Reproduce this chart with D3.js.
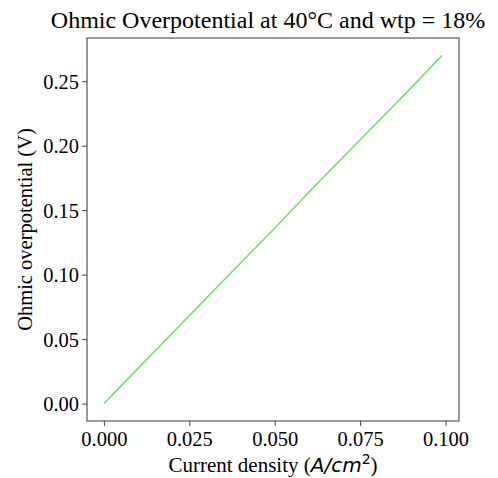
<!DOCTYPE html>
<html>
<head>
<meta charset="utf-8">
<script src="https://cdn.jsdelivr.net/npm/d3@7"></script>
<style>
  body { margin: 0; background: #fff; }
  text { font-family: "Liberation Serif", "Times New Roman", serif; fill: #000; }
</style>
</head>
<body>
<div id="chart"></div>
<script>
// current density (A/cm^2) and ohmic overpotential (V)
var currentDensity = [0.000, 0.010, 0.020, 0.030, 0.040, 0.050, 0.060, 0.070, 0.080, 0.090, 0.099];
var overpotential  = [0.000, 0.0273, 0.0545, 0.0818, 0.109, 0.136, 0.164, 0.191, 0.218, 0.245, 0.270];
var xTicks = [0.000, 0.025, 0.050, 0.075, 0.100];
var yTicks = [0.00, 0.05, 0.10, 0.15, 0.20, 0.25];

var width = 498, height = 478;
var margin = {top: 38, right: 39, bottom: 57, left: 87};

var svg = d3.select("#chart")
  .append("svg")
    .attr("width", width)
    .attr("height", height);

// matplotlib style 5% margins around the data
var xPad = (d3.max(currentDensity) - d3.min(currentDensity)) * 0.05;
var yPad = (d3.max(overpotential) - d3.min(overpotential)) * 0.05;

var x = d3.scaleLinear()
  .domain([d3.min(currentDensity) - xPad, d3.max(currentDensity) + xPad])
  .range([margin.left, width - margin.right]);

var y = d3.scaleLinear()
  .domain([d3.min(overpotential) - yPad, d3.max(overpotential) + yPad])
  .range([height - margin.bottom, margin.top]);

// axes
var xAxis = svg.append("g")
  .attr("transform", "translate(0," + (height - margin.bottom) + ")")
  .call(d3.axisBottom(x).tickValues(xTicks).tickFormat(d3.format(".3f")).tickSize(5).tickPadding(3));

var yAxis = svg.append("g")
  .attr("transform", "translate(" + margin.left + ",0)")
  .call(d3.axisLeft(y).tickValues(yTicks).tickFormat(d3.format(".2f")).tickSize(5).tickPadding(3));

[xAxis, yAxis].forEach(function(a) {
  a.select(".domain").remove();
  a.selectAll(".tick line").attr("stroke", "#444").attr("stroke-width", 1);
  a.selectAll(".tick text").style("font-size", "20.5px").attr("fill", "#000");
});
xAxis.selectAll(".tick text").attr("dy", "0.85em");
yAxis.selectAll(".tick text").attr("dy", "0.35em");

// frame
svg.append("rect")
  .attr("x", margin.left)
  .attr("y", margin.top)
  .attr("width", width - margin.left - margin.right)
  .attr("height", height - margin.top - margin.bottom)
  .attr("fill", "none")
  .attr("stroke", "#555")
  .attr("stroke-width", 1.2);

// the line
var line = d3.line()
  .x(function(d, i) { return x(currentDensity[i]); })
  .y(function(d) { return y(d); });

svg.append("path")
  .datum(overpotential)
  .attr("d", line)
  .attr("fill", "none")
  .attr("stroke", "#77dd77")
  .attr("stroke-width", 1.6);

// title
svg.append("text")
  .attr("x", 268)
  .attr("y", 28)
  .attr("text-anchor", "middle")
  .style("font-size", "24px")
  .text("Ohmic Overpotential at 40°C and wtp = 18%");

// x label with mathtext-like unit
var xl = svg.append("text")
  .attr("x", (margin.left + width - margin.right) / 2)
  .attr("y", 472)
  .attr("text-anchor", "middle")
  .style("font-size", "21px");
xl.append("tspan").text("Current density (");
xl.append("tspan")
  .style("font-family", "DejaVu Sans")
  .style("font-style", "italic")
  .style("font-size", "20px")
  .text("A/cm");
xl.append("tspan")
  .style("font-family", "DejaVu Sans")
  .style("font-size", "14px")
  .attr("dy", -8)
  .text("2");
xl.append("tspan")
  .attr("dy", 8)
  .text(")");

// y label
svg.append("text")
  .attr("transform", "translate(32," + ((margin.top + height - margin.bottom) / 2) + ") rotate(-90)")
  .attr("text-anchor", "middle")
  .style("font-size", "20.5px")
  .text("Ohmic overpotential (V)");
</script>
</body>
</html>
